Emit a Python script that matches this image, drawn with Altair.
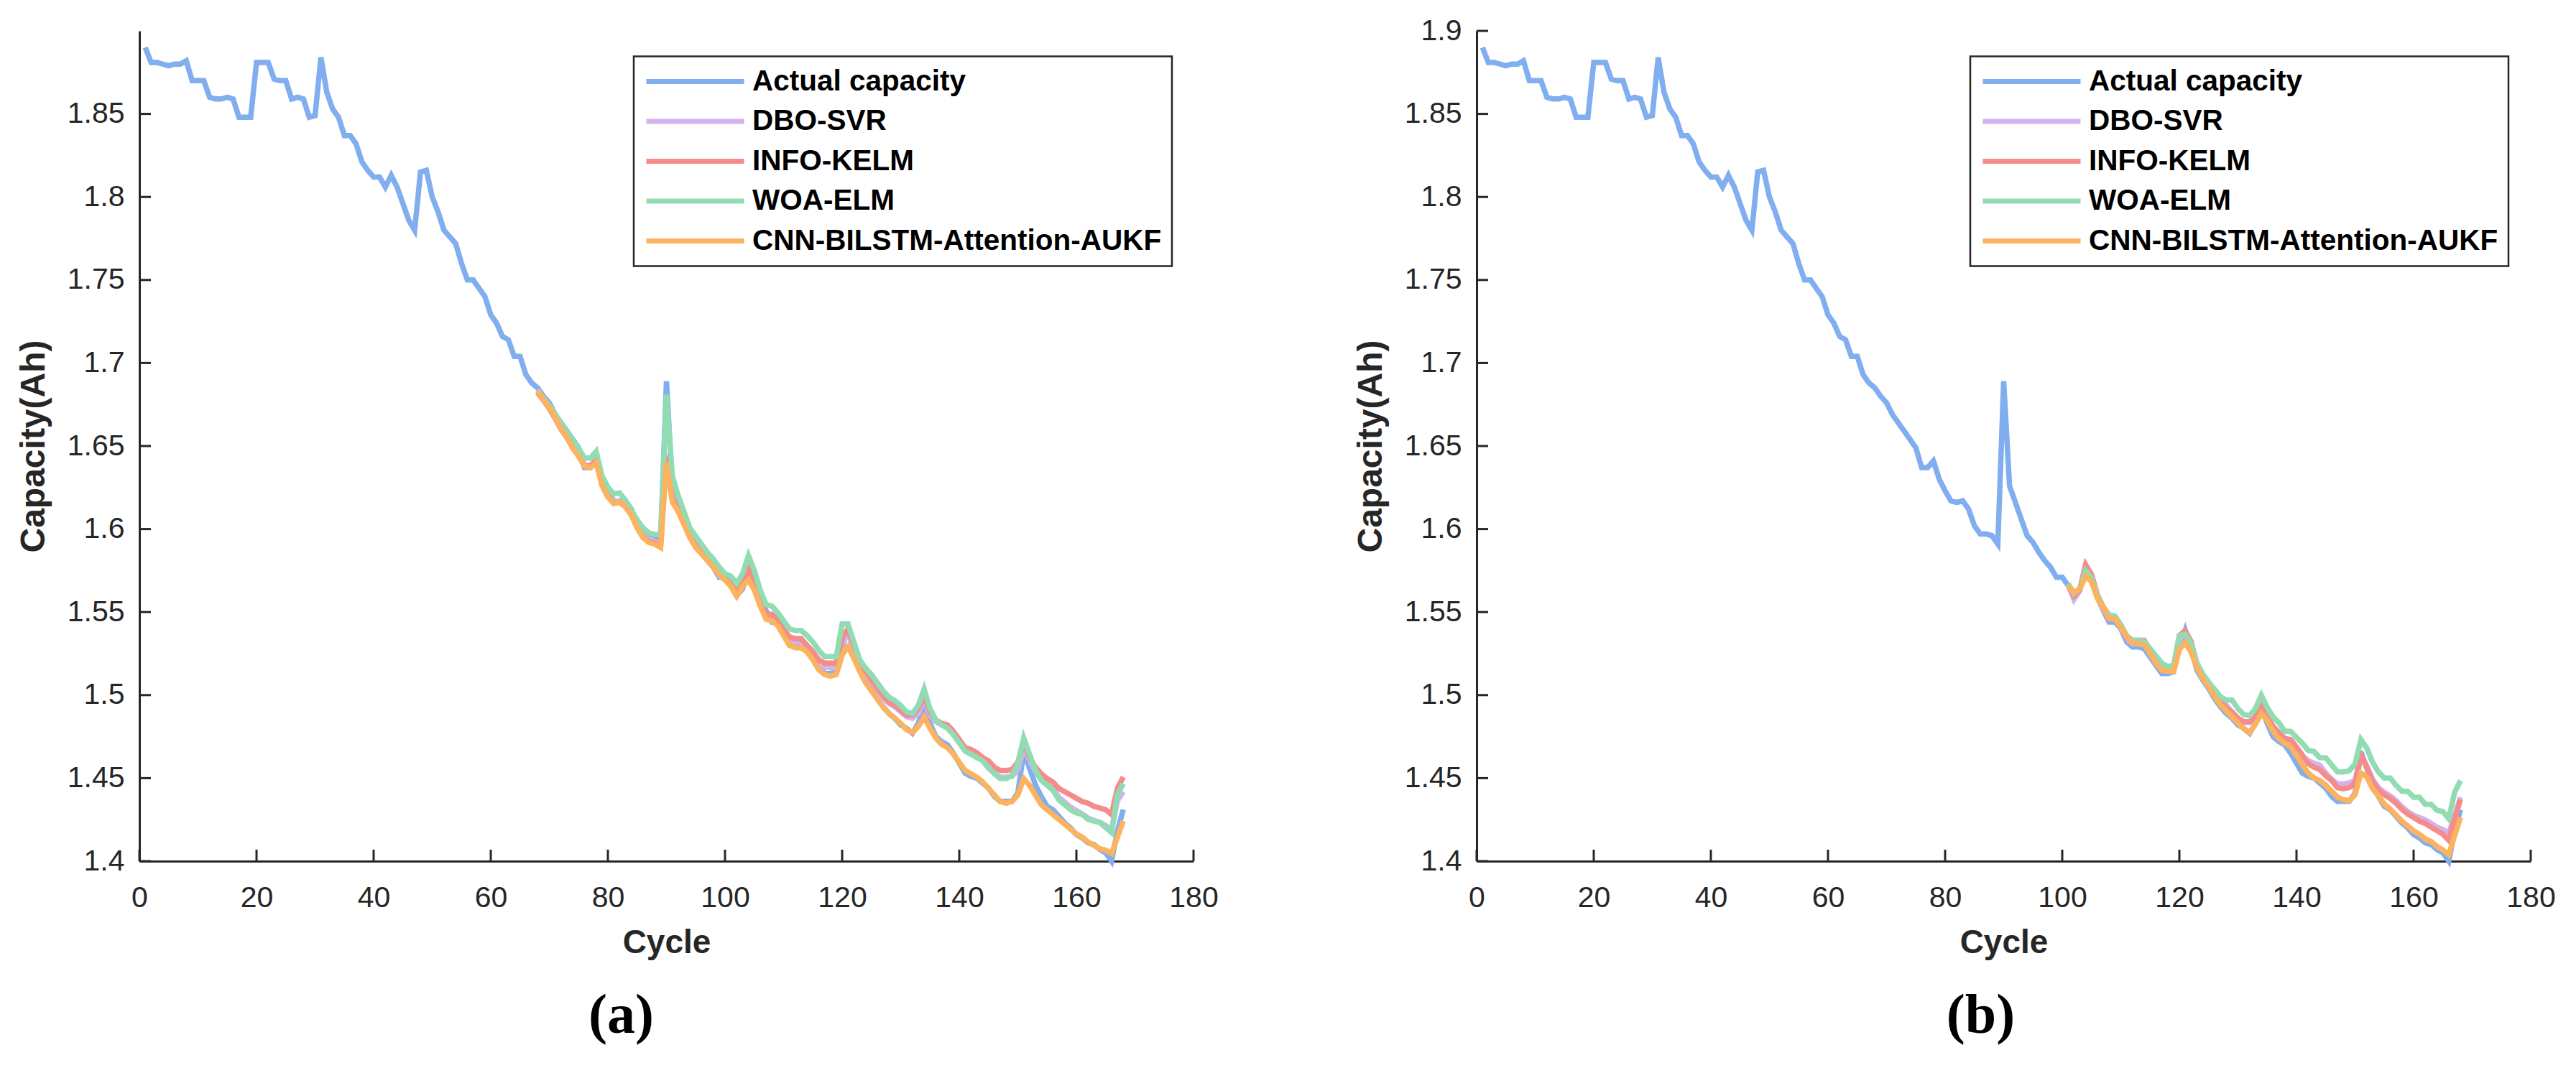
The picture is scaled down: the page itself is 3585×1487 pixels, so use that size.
import altair as alt
import pandas as pd

# ---------------- data ----------------
series_names = ["Actual capacity", "DBO-SVR", "INFO-KELM", "WOA-ELM", "CNN-BILSTM-Attention-AUKF"]
series_colors = ["#80AEEE", "#D4B2EC", "#F48C8A", "#92DCB4", "#FBB360"]

x_ticks = [0, 20, 40, 60, 80, 100, 120, 140, 160, 180]
y_ticks_a = [1.4, 1.45, 1.5, 1.55, 1.6, 1.65, 1.7, 1.75, 1.8, 1.85]
y_ticks_b = [1.4, 1.45, 1.5, 1.55, 1.6, 1.65, 1.7, 1.75, 1.8, 1.85, 1.9]

actual_cycles = list(range(1, 169))
actual = [
    1.890, 1.881, 1.881, 1.880, 1.879, 1.880, 1.880, 1.882, 1.870, 1.870,
    1.870, 1.860, 1.859, 1.859, 1.860, 1.859, 1.848, 1.848, 1.848, 1.881,
    1.881, 1.881, 1.871, 1.870, 1.870, 1.859, 1.860, 1.859, 1.848, 1.849,
    1.884, 1.863, 1.853, 1.848, 1.837, 1.837, 1.832, 1.821, 1.816, 1.812,
    1.812, 1.806, 1.813, 1.806, 1.796, 1.786, 1.780, 1.815, 1.816, 1.800,
    1.791, 1.780, 1.776, 1.772, 1.760, 1.750, 1.750, 1.745, 1.740, 1.729,
    1.724, 1.716, 1.714, 1.704, 1.704, 1.693, 1.688, 1.685, 1.680, 1.676,
    1.669, 1.664, 1.659, 1.654, 1.649, 1.637, 1.637, 1.641, 1.630, 1.623,
    1.617, 1.616, 1.617, 1.612, 1.602, 1.597, 1.597, 1.596, 1.591, 1.689,
    1.626, 1.616, 1.606, 1.596, 1.592, 1.586, 1.581, 1.577, 1.571, 1.571,
    1.566, 1.560, 1.564, 1.578, 1.572, 1.559, 1.551, 1.544, 1.544, 1.540,
    1.532, 1.529, 1.529, 1.528, 1.523, 1.518, 1.513, 1.513, 1.514, 1.529,
    1.539, 1.528, 1.515, 1.509, 1.504, 1.498, 1.493, 1.489, 1.486, 1.482,
    1.480, 1.477, 1.483, 1.493, 1.483, 1.475, 1.472, 1.470, 1.465, 1.459,
    1.453, 1.451, 1.450, 1.447, 1.444, 1.439, 1.436, 1.436, 1.436, 1.441,
    1.466, 1.456, 1.446, 1.439, 1.433, 1.431, 1.427, 1.423, 1.420, 1.416,
    1.414, 1.411, 1.410, 1.407, 1.405, 1.400, 1.418, 1.431,
]

# panel (a): predictions for cycles 68..168
start_a = 68
dbo_a = [
    1.684, 1.678, 1.673, 1.667, 1.6605, 1.6555, 1.6495, 1.6445, 1.6385, 1.638,
    1.6415, 1.6275, 1.6205, 1.6165, 1.617, 1.6145, 1.6095, 1.6015, 1.596, 1.5935,
    1.5925, 1.591, 1.645, 1.6195, 1.6125, 1.604, 1.596, 1.5905, 1.5865, 1.5825,
    1.578, 1.5735, 1.5695, 1.567, 1.5615, 1.5665, 1.5745, 1.5665, 1.5555, 1.548,
    1.5475, 1.5445, 1.539, 1.5335, 1.532, 1.532, 1.529, 1.525, 1.52, 1.517,
    1.5165, 1.5165, 1.531, 1.537, 1.5285, 1.518, 1.5135, 1.5085, 1.5035, 1.4985,
    1.495, 1.493, 1.49, 1.487, 1.486, 1.489, 1.497, 1.488, 1.484, 1.482,
    1.4805, 1.477, 1.472, 1.467, 1.4655, 1.4635, 1.4605, 1.456, 1.453, 1.4505,
    1.4505, 1.451, 1.455, 1.468, 1.461, 1.454, 1.4495, 1.446, 1.4435, 1.4385,
    1.4355, 1.4325, 1.4305, 1.4285, 1.426, 1.4245, 1.4235, 1.4215, 1.4185, 1.4365,
    1.4418,
]
info_a = [
    1.682, 1.6775, 1.6725, 1.6665, 1.66, 1.655, 1.649, 1.6445, 1.6385, 1.638,
    1.6415, 1.6271, 1.6203, 1.6155, 1.616, 1.6135, 1.6085, 1.601, 1.595, 1.5925,
    1.5915, 1.5905, 1.6438, 1.6185, 1.6125, 1.6045, 1.5965, 1.5905, 1.5865, 1.5825,
    1.5785, 1.5735, 1.5695, 1.5675, 1.5624, 1.5673, 1.5761, 1.5673, 1.5565, 1.5487,
    1.5487, 1.5457, 1.5399, 1.535, 1.534, 1.534, 1.530, 1.5261, 1.5212, 1.5193,
    1.5193, 1.5193, 1.534, 1.5399, 1.530, 1.5193, 1.5144, 1.5095, 1.5046, 1.4997,
    1.4958, 1.4938, 1.4908, 1.4879, 1.4879, 1.4918, 1.4997, 1.4899, 1.485, 1.483,
    1.482, 1.4781, 1.4732, 1.4683, 1.4673, 1.4653, 1.4624, 1.4604, 1.4565, 1.4546,
    1.4546, 1.4551, 1.4595, 1.4722, 1.4624, 1.4565, 1.4526, 1.4497, 1.4477, 1.4438,
    1.4418, 1.4399, 1.4379, 1.4359, 1.4349, 1.433, 1.432, 1.431, 1.4281, 1.4438,
    1.4507,
]
woa_a = [
    1.683, 1.679, 1.6742, 1.6693, 1.6634, 1.6585, 1.6535, 1.6487, 1.6428, 1.6428,
    1.6467, 1.632, 1.6251, 1.6212, 1.6218, 1.6173, 1.6114, 1.6055, 1.6006, 1.5977,
    1.5967, 1.5967, 1.681, 1.632, 1.6202, 1.6104, 1.6006, 1.5957, 1.5908, 1.5859,
    1.582, 1.5771, 1.5732, 1.5716, 1.5673, 1.5732, 1.584, 1.5751, 1.5634, 1.5546,
    1.5536, 1.5497, 1.5448, 1.5399, 1.5389, 1.5389, 1.5359, 1.532, 1.5271, 1.5232,
    1.5232, 1.5232, 1.5428, 1.5428, 1.532, 1.5212, 1.5163, 1.5124, 1.5075, 1.5026,
    1.4987, 1.4967, 1.4938, 1.4899, 1.4889, 1.4938, 1.5036, 1.4918, 1.485, 1.482,
    1.48, 1.4761, 1.4712, 1.4663, 1.4644, 1.4624, 1.4605, 1.4565, 1.4526, 1.4497,
    1.4497, 1.4516, 1.4585, 1.4742, 1.4644, 1.4546, 1.4487, 1.4457, 1.4428, 1.4369,
    1.434, 1.431, 1.4291, 1.4281, 1.4252, 1.4242, 1.4232, 1.4203, 1.4173, 1.4399,
    1.4467,
]
cnn_a = [
    1.683, 1.678, 1.6732, 1.6673, 1.6604, 1.6555, 1.6487, 1.6438, 1.6379, 1.6369,
    1.6399, 1.6261, 1.6193, 1.6154, 1.6164, 1.6134, 1.6085, 1.6007, 1.5948, 1.5919,
    1.5909, 1.5889, 1.6399, 1.6164, 1.6105, 1.6026, 1.5948, 1.5889, 1.585, 1.581,
    1.5771, 1.5722, 1.5693, 1.5654, 1.5595, 1.5654, 1.5693, 1.5634, 1.5536, 1.5457,
    1.5448, 1.5418, 1.5359, 1.530, 1.5285, 1.5285, 1.5261, 1.5212, 1.5154, 1.5124,
    1.5114, 1.5124, 1.5242, 1.5291, 1.5222, 1.5144, 1.5075, 1.5026, 1.4977, 1.4928,
    1.4889, 1.486, 1.483, 1.4791, 1.4775, 1.481, 1.4869, 1.4801, 1.4742, 1.4703,
    1.4683, 1.4644, 1.4595, 1.4546, 1.4526, 1.4506, 1.4477, 1.4438, 1.4398, 1.4359,
    1.4349, 1.4359, 1.4398, 1.4497, 1.4457, 1.4398, 1.434, 1.431, 1.4281, 1.4252,
    1.4222, 1.4193, 1.4164, 1.4144, 1.4115, 1.4095, 1.4075, 1.4066, 1.4046, 1.4144,
    1.4242,
]

# panel (b): predictions for cycles 101..168
start_b = 101
dbo_b = [
    1.5665, 1.5576, 1.563, 1.577, 1.571, 1.559, 1.552, 1.5465, 1.546, 1.541,
    1.534, 1.531, 1.531, 1.531, 1.526, 1.521, 1.5165, 1.515, 1.515, 1.533,
    1.538, 1.531, 1.518, 1.511, 1.505, 1.500, 1.496, 1.494, 1.4895, 1.486,
    1.4835, 1.4835, 1.487, 1.4955, 1.488, 1.481, 1.477, 1.4735, 1.4725, 1.468,
    1.463, 1.4605, 1.459, 1.4578, 1.453, 1.4494, 1.4465, 1.4465, 1.4472, 1.4486,
    1.4638, 1.4573, 1.4494, 1.4443, 1.4414, 1.4393, 1.4364, 1.4328, 1.4299, 1.4277,
    1.4263, 1.4248, 1.4227, 1.4205, 1.419, 1.4169, 1.427, 1.4385,
]
info_b = [
    1.5662, 1.5597, 1.5633, 1.5785, 1.5727, 1.5604, 1.5532, 1.5482, 1.5475, 1.5417,
    1.5345, 1.533, 1.533, 1.533, 1.5273, 1.5222, 1.5179, 1.5157, 1.5165, 1.5359,
    1.5388, 1.5323, 1.5186, 1.5114, 1.5056, 1.5006, 1.4962, 1.4926, 1.4898, 1.4861,
    1.484, 1.484, 1.4869, 1.4941, 1.4869, 1.4811, 1.4775, 1.4739, 1.4732, 1.4688,
    1.4638, 1.4587, 1.4566, 1.4551, 1.4515, 1.4486, 1.4443, 1.4436, 1.4443, 1.4472,
    1.4638, 1.4566, 1.4479, 1.4429, 1.44, 1.4378, 1.4349, 1.4313, 1.4284, 1.4263,
    1.4241, 1.4227, 1.4205, 1.4183, 1.4162, 1.4126, 1.4255, 1.4371,
]
woa_b = [
    1.5672, 1.5612, 1.564, 1.5749, 1.5706, 1.5597, 1.5525, 1.5482, 1.5475, 1.5424,
    1.5359, 1.533, 1.533, 1.5323, 1.528, 1.5237, 1.5193, 1.5172, 1.5179, 1.5359,
    1.5367, 1.5309, 1.5193, 1.5128, 1.5078, 1.5035, 1.4991, 1.497, 1.497, 1.4919,
    1.4883, 1.4876, 1.4919, 1.4999, 1.4926, 1.4869, 1.4833, 1.4782, 1.4782, 1.4746,
    1.471, 1.4667, 1.466, 1.4623, 1.4623, 1.458, 1.4537, 1.4537, 1.4544, 1.4587,
    1.4732, 1.4681, 1.4595, 1.4537, 1.4501, 1.4501, 1.4457, 1.4421, 1.4421, 1.4385,
    1.4385, 1.4342, 1.4342, 1.4306, 1.4299, 1.4255, 1.4414, 1.4486,
]
cnn_b = [
    1.5658, 1.5619, 1.564, 1.5716, 1.5684, 1.5583, 1.5525, 1.546, 1.5456, 1.541,
    1.5352, 1.5316, 1.5309, 1.5302, 1.5251, 1.5193, 1.515, 1.5143, 1.5143, 1.5273,
    1.5316, 1.5258, 1.5165, 1.51, 1.5049, 1.4991, 1.4941, 1.4905, 1.4869, 1.4833,
    1.4797, 1.4775, 1.4825, 1.489, 1.4847, 1.4782, 1.4739, 1.471, 1.4688, 1.4638,
    1.458, 1.453, 1.4501, 1.4486, 1.4457, 1.4421, 1.4385, 1.4371, 1.4364, 1.44,
    1.453, 1.4508, 1.4436, 1.4392, 1.4342, 1.4313, 1.4277, 1.4241, 1.4212, 1.4183,
    1.4162, 1.4133, 1.4118, 1.4089, 1.4068, 1.4039, 1.4154, 1.4263,
]

# ---------------- styling ----------------
W, H = 1467, 1156
AX = "#262626"
SANS = "Liberation Sans"
SERIF = "Liberation Serif"


def build_frame(preds, start):
    rows = []
    for c, v in zip(actual_cycles, actual):
        rows.append({"series": series_names[0], "cycle": c, "cap": v})
    for name, vals in zip(series_names[1:], preds):
        for i, v in enumerate(vals):
            rows.append({"series": name, "cycle": start + i, "cap": v})
    return pd.DataFrame(rows)


def panel(df, yticks, letter, legend_x, title_dx):
    xscale = alt.Scale(domain=[0, 180], nice=False, zero=False)
    yscale = alt.Scale(domain=[1.4, 1.9], nice=False, zero=False)
    xaxis = alt.Axis(
        values=x_ticks, format="d", title="Cycle", grid=False, ticks=False, tickSize=0,
        labelFont=SANS, labelFontSize=41, labelColor=AX, labelPadding=31,
        labelFlush=False, labelOverlap=False,
        domainColor=AX, domainWidth=3,
        titleFont=SANS, titleFontSize=46, titleFontWeight="bold", titleColor=AX,
        titlePadding=20,
    )
    yaxis = alt.Axis(
        values=yticks, format="~g", title="Capacity(Ah)", grid=False, ticks=False, tickSize=0,
        labelFont=SANS, labelFontSize=41, labelColor=AX, labelPadding=21,
        labelFlush=False, labelOverlap=False,
        domainColor=AX, domainWidth=3,
        titleFont=SANS, titleFontSize=48, titleFontWeight="bold", titleColor=AX,
        titlePadding=22,
    )
    legend = alt.Legend(
        title=None, orient="none", legendX=legend_x, legendY=35.5,
        symbolType="stroke", symbolSize=18496, symbolStrokeWidth=7, symbolOpacity=1,
        clipHeight=42, rowPadding=13.5, labelOffset=8, padding=14,
        labelFont=SANS, labelFontSize=40.5, labelFontWeight="bold", labelColor="black",
        labelLimit=2000, strokeColor=AX, fillColor="white", cornerRadius=0,
    )
    lines = alt.Chart(df).mark_line(strokeWidth=7.5).encode(
        x=alt.X("cycle:Q", scale=xscale, axis=xaxis),
        y=alt.Y("cap:Q", scale=yscale, axis=yaxis),
        color=alt.Color("series:N", sort=series_names,
                        scale=alt.Scale(domain=series_names, range=series_colors),
                        legend=legend),
        order=alt.Order("cycle:Q"),
    )
    yt = alt.Chart(pd.DataFrame({"cap": yticks})).mark_rule(color=AX, strokeWidth=3).encode(
        y=alt.Y("cap:Q", scale=yscale), x=alt.value(0), x2=alt.value(16)
    )
    xt = alt.Chart(pd.DataFrame({"cycle": x_ticks})).mark_rule(color=AX, strokeWidth=3).encode(
        x=alt.X("cycle:Q", scale=xscale), y=alt.value(H), y2=alt.value(H - 16)
    )
    return alt.layer(lines, yt, xt).properties(
        width=W, height=H,
        title=alt.TitleParams(
            letter, orient="bottom", anchor="middle", frame="group", font=SERIF,
            fontSize=78, fontWeight="bold", color="black", offset=41, dx=title_dx,
        ),
    )


df_a = build_frame([dbo_a, info_a, woa_a, cnn_a], start_a)
df_b = build_frame([dbo_b, info_b, woa_b, cnn_b], start_b)

pa = panel(df_a, y_ticks_a, "(a)", 688, -63)
pb = panel(df_b, y_ticks_b, "(b)", 687, -32)

chart = alt.hconcat(pa, pb, spacing=394, bounds="flush").resolve_scale(
    color="independent"
).resolve_legend(color="independent").configure_view(stroke=None).configure_legend(
    strokeWidth=2.5
).properties(
    padding={"left": 15, "top": 14, "right": 5, "bottom": 5},
    background="white",
)

chart.save("out.html", embed_options={"renderer": "svg", "actions": False})
